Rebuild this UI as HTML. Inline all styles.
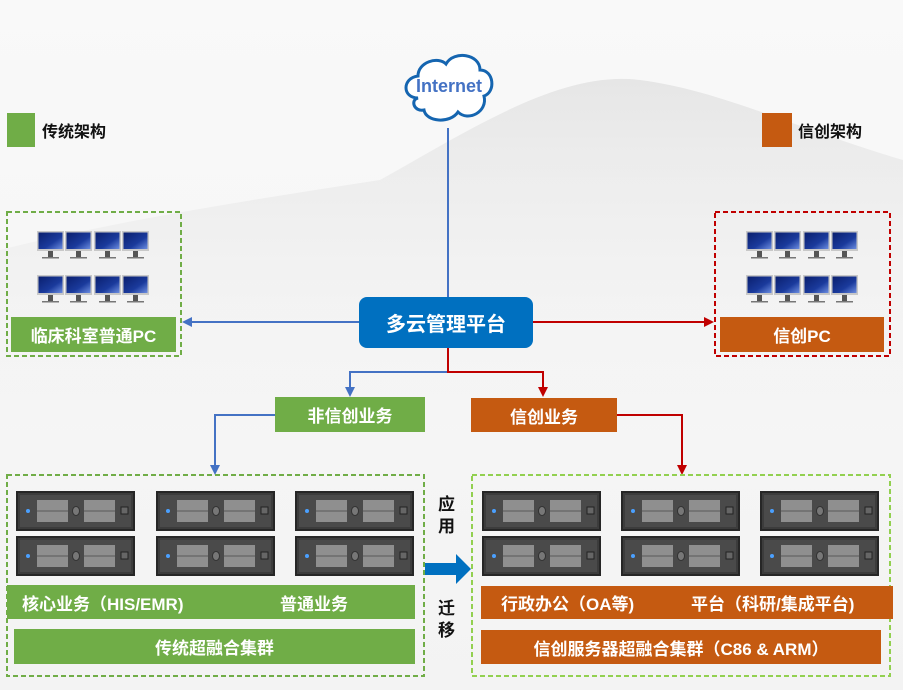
<!DOCTYPE html>
<html><head><meta charset="utf-8"><style>
body{margin:0;width:903px;height:690px;overflow:hidden;background:#f4f4f4;font-family:"Liberation Sans","Noto Sans CJK SC",sans-serif;}
.a{position:absolute;}
.lbl{position:absolute;color:#fff;font-weight:bold;font-size:17px;display:flex;align-items:center;justify-content:center;}
.g{background:#70ad47}.o{background:#c55a11}
</style></head><body>
<svg class="a" style="left:0;top:0" width="903" height="690">
<defs>
<linearGradient id="bg" x1="0" y1="0" x2="0" y2="1"><stop offset="0" stop-color="#f9f9f9"/><stop offset="1" stop-color="#f3f3f3"/></linearGradient>
<linearGradient id="scr" x1="0" y1="0" x2="1" y2="1"><stop offset="0" stop-color="#0a1f6e"/><stop offset="0.6" stop-color="#1a3a9c"/><stop offset="1" stop-color="#6c8de0"/></linearGradient>
<linearGradient id="mt" x1="0" y1="0" x2="0" y2="1"><stop offset="0" stop-color="#e6e6e6"/><stop offset="1" stop-color="#f4f4f4" stop-opacity="0"/></linearGradient>
<symbol id="mon" viewBox="0 0 27 28"><rect x="0" y="0" width="27" height="20" fill="#c8c8c8"/><rect x="1.5" y="1.5" width="24" height="16.5" fill="url(#scr)"/><rect x="11" y="20" width="5" height="6" fill="#555"/><rect x="5" y="26" width="17" height="1.5" fill="#777"/></symbol>
<symbol id="srv" viewBox="0 0 119 40"><rect x="0" y="0" width="119" height="40" fill="#262626"/><rect x="2" y="2" width="115" height="36" fill="#3c3c3c"/><rect x="4" y="4" width="111" height="32" fill="#4a4a4a"/><circle cx="12" cy="20" r="2" fill="#4aa0ff"/><rect x="21" y="9" width="31" height="22" fill="#8f8f8f"/><line x1="21" y1="20" x2="52" y2="20" stroke="#5a5a5a"/><rect x="68" y="9" width="31" height="22" fill="#8f8f8f"/><line x1="68" y1="20" x2="99" y2="20" stroke="#5a5a5a"/><ellipse cx="60" cy="20" rx="3.5" ry="4.5" fill="#777" stroke="#333"/><rect x="105" y="16" width="7" height="7" fill="#666" stroke="#222"/></symbol>
<marker id="ab" markerWidth="10" markerHeight="10" refX="8" refY="5" orient="auto" markerUnits="userSpaceOnUse"><path d="M0,0 L10,5 L0,10z" fill="#4472c4"/></marker>
<marker id="ar" markerWidth="10" markerHeight="10" refX="8" refY="5" orient="auto" markerUnits="userSpaceOnUse"><path d="M0,0 L10,5 L0,10z" fill="#c00000"/></marker>
</defs>
<rect width="903" height="690" fill="url(#bg)"/>
<path d="M0,250 C120,220 250,200 380,180 C470,130 560,70 640,80 C720,90 800,130 903,160 L903,460 L0,460z" fill="url(#mt)"/>
<!-- legend -->
<rect x="7" y="113" width="28" height="34" fill="#70ad47"/>
<rect x="762" y="113" width="30" height="34" fill="#c55a11"/>
<!-- cloud -->
<path d="M418,98 C402,98 402,78 418,76 C418,62 438,56 446,64 C454,50 480,54 480,70 C494,70 496,92 484,96 C488,112 468,122 458,112 C450,124 426,122 424,110 C414,112 410,100 418,98z" fill="#fff" stroke="#1565b0" stroke-width="3"/>
<!-- lines -->
<line x1="448" y1="128" x2="448" y2="298" stroke="#4472c4" stroke-width="2"/>
<line x1="359" y1="322" x2="184" y2="322" stroke="#4472c4" stroke-width="2" marker-end="url(#ab)"/>
<line x1="533" y1="322" x2="712" y2="322" stroke="#c00000" stroke-width="2" marker-end="url(#ar)"/>
<polyline points="448,348 448,372 350,372 350,395" fill="none" stroke="#4472c4" stroke-width="2" marker-end="url(#ab)"/>
<polyline points="448,348 448,372 543,372 543,395" fill="none" stroke="#c00000" stroke-width="2" marker-end="url(#ar)"/>
<polyline points="275,415 215,415 215,473" fill="none" stroke="#4472c4" stroke-width="2" marker-end="url(#ab)"/>
<polyline points="617,415 682,415 682,473" fill="none" stroke="#c00000" stroke-width="2" marker-end="url(#ar)"/>
<!-- boxes -->
<rect x="7" y="212" width="174" height="144" fill="none" stroke="#70ad47" stroke-width="2" stroke-dasharray="5,3"/>
<rect x="715" y="212" width="175" height="144" fill="none" stroke="#c00000" stroke-width="2" stroke-dasharray="5,3"/>
<rect x="7" y="475" width="417" height="201" fill="none" stroke="#70ad47" stroke-width="2" stroke-dasharray="5,3"/>
<rect x="472" y="475" width="418" height="201" fill="none" stroke="#92d050" stroke-width="2" stroke-dasharray="5,3"/>
<!-- monitors -->
<use href="#mon" x="37" y="231" width="27" height="28"/><use href="#mon" x="65" y="231" width="27" height="28"/><use href="#mon" x="94" y="231" width="27" height="28"/><use href="#mon" x="122" y="231" width="27" height="28"/>
<use href="#mon" x="37" y="275" width="27" height="28"/><use href="#mon" x="65" y="275" width="27" height="28"/><use href="#mon" x="94" y="275" width="27" height="28"/><use href="#mon" x="122" y="275" width="27" height="28"/>
<use href="#mon" x="746" y="231" width="27" height="28"/><use href="#mon" x="774" y="231" width="27" height="28"/><use href="#mon" x="803" y="231" width="27" height="28"/><use href="#mon" x="831" y="231" width="27" height="28"/>
<use href="#mon" x="746" y="275" width="27" height="28"/><use href="#mon" x="774" y="275" width="27" height="28"/><use href="#mon" x="803" y="275" width="27" height="28"/><use href="#mon" x="831" y="275" width="27" height="28"/>
<!-- servers -->
<use href="#srv" x="16" y="491" width="119" height="40"/><use href="#srv" x="156" y="491" width="119" height="40"/><use href="#srv" x="295" y="491" width="119" height="40"/>
<use href="#srv" x="16" y="536" width="119" height="40"/><use href="#srv" x="156" y="536" width="119" height="40"/><use href="#srv" x="295" y="536" width="119" height="40"/>
<use href="#srv" x="482" y="491" width="119" height="40"/><use href="#srv" x="621" y="491" width="119" height="40"/><use href="#srv" x="760" y="491" width="119" height="40"/>
<use href="#srv" x="482" y="536" width="119" height="40"/><use href="#srv" x="621" y="536" width="119" height="40"/><use href="#srv" x="760" y="536" width="119" height="40"/>
<!-- migrate arrow -->
<path d="M425,563 L456,563 L456,554 L471,569 L456,584 L456,575 L425,575z" fill="#0070c0"/>
</svg>
<div class="a" style="left:42px;top:118px;font-size:16px;font-weight:bold;color:#111">传统架构</div>
<div class="a" style="left:798px;top:118px;font-size:16px;font-weight:bold;color:#111">信创架构</div>
<div class="a" style="left:405px;top:76px;width:88px;text-align:center;font-size:18px;font-weight:bold;color:#4472c4">Internet</div>
<div class="lbl" style="left:359px;top:297px;width:174px;height:51px;background:#0070c0;border-radius:8px;font-size:20px">多云管理平台</div>
<div class="lbl g" style="left:11px;top:317px;width:165px;height:35px">临床科室普通PC</div>
<div class="lbl o" style="left:720px;top:317px;width:164px;height:35px">信创PC</div>
<div class="lbl g" style="left:275px;top:397px;width:150px;height:35px">非信创业务</div>
<div class="lbl o" style="left:471px;top:398px;width:146px;height:34px">信创业务</div>
<div class="lbl g" style="left:7px;top:585px;width:408px;height:34px;justify-content:flex-start"><span style="position:absolute;left:15px">核心业务（HIS/EMR)</span><span style="position:absolute;left:273px">普通业务</span></div>
<div class="lbl g" style="left:14px;top:629px;width:401px;height:35px">传统超融合集群</div>
<div class="lbl o" style="left:481px;top:586px;width:412px;height:33px;justify-content:flex-start"><span style="position:absolute;left:20px">行政办公（OA等)</span><span style="position:absolute;left:210px">平台（科研/集成平台)</span></div>
<div class="lbl o" style="left:481px;top:630px;width:400px;height:34px">信创服务器超融合集群（C86 &amp; ARM）</div>
<div class="a" style="left:438px;top:494px;width:20px;font-size:17px;font-weight:bold;line-height:22px;color:#111">应<br>用</div>
<div class="a" style="left:438px;top:598px;width:20px;font-size:17px;font-weight:bold;line-height:22px;color:#111">迁<br>移</div>
</body></html>
